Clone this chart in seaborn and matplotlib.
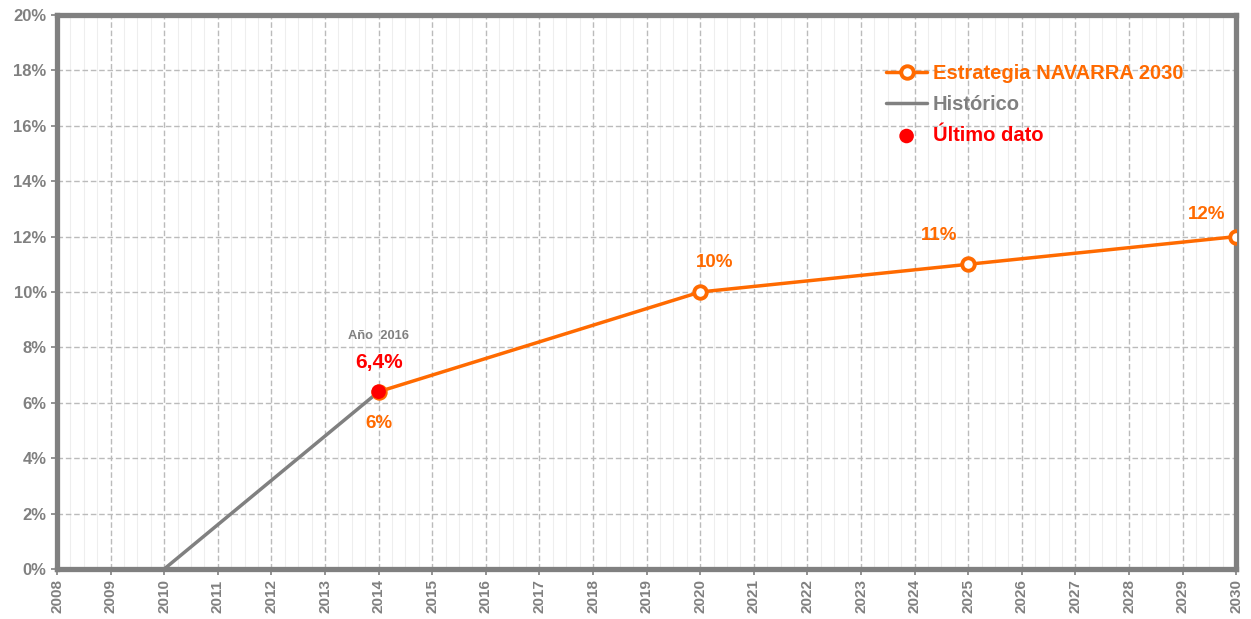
import matplotlib
matplotlib.use("Agg")
import matplotlib.pyplot as plt
import seaborn as sns
import pandas as pd
from matplotlib.ticker import MultipleLocator, FuncFormatter

# Data
years_strategy = [2014, 2020, 2025, 2030]
values_strategy = [6.4, 10.0, 11.0, 12.0]
labels_strategy = ["6%", "10%", "11%", "12%"]
years_hist = [2010, 2014]
values_hist = [0.0, 6.4]
last_year = [2014]
last_value = [6.4]
last_label = "6,4%"
last_note = "Año  2016"
series_names = ["Estrategia NAVARRA 2030", "Histórico", "Último dato"]

ORANGE = "#FF6A00"
GRAY = "#808080"
RED = "#FF0000"

sns.set_style("white")
plt.rcParams["font.family"] = ["Liberation Sans", "DejaVu Sans"]

fig = plt.figure(figsize=(12.51, 6.19), dpi=100)
ax = fig.add_axes([0.0456, 0.0808, 0.9426, 0.8950])

df_s = pd.DataFrame({"year": years_strategy, "value": values_strategy})
df_h = pd.DataFrame({"year": years_hist, "value": values_hist})
df_l = pd.DataFrame({"year": last_year, "value": last_value})

sns.lineplot(data=df_h, x="year", y="value", ax=ax, color=GRAY, lw=2.5,
             label=series_names[1], zorder=3)
sns.lineplot(data=df_s, x="year", y="value", ax=ax, color=ORANGE, lw=2.5,
             marker="o", markersize=9, markerfacecolor="white",
             markeredgecolor=ORANGE, markeredgewidth=2.8,
             label=series_names[0], zorder=4)
sns.scatterplot(data=df_l, x="year", y="value", ax=ax, color=RED, s=110,
                edgecolor="none", label=series_names[2], zorder=5)

ax.set_xlim(2008, 2030)
ax.set_ylim(0, 20)
ax.xaxis.set_major_locator(MultipleLocator(1))
ax.xaxis.set_minor_locator(MultipleLocator(0.25))
ax.yaxis.set_major_locator(MultipleLocator(2))
ax.yaxis.set_major_formatter(FuncFormatter(lambda v, p: f"{v:.0f}%"))
ax.set_xlabel("")
ax.set_ylabel("")

ax.grid(which="minor", axis="x", color="#EEEEEE", lw=0.8, ls="-", zorder=0)
ax.grid(which="major", axis="both", color="#BBBBBB", lw=1.0, ls=(0, (4, 2)), zorder=1)
ax.set_axisbelow(True)

for s in ax.spines.values():
    s.set_visible(True)
    s.set_color(GRAY)
    s.set_linewidth(3.8)

ax.tick_params(axis="both", which="major", colors=GRAY, length=4, width=1.2,
               direction="out", bottom=True, left=True)
ax.tick_params(axis="both", which="minor", length=0)
for t in ax.get_xticklabels():
    t.set_rotation(90)
    t.set_fontweight("bold")
    t.set_fontsize(11)
    t.set_color(GRAY)
for t in ax.get_yticklabels():
    t.set_fontweight("bold")
    t.set_fontsize(12)
    t.set_color(GRAY)

# Data labels
offsets = [(0, -23), (10, 21), (-21, 21), (-21, 16)]
for x, y, lab, off in zip(years_strategy, values_strategy, labels_strategy, offsets):
    ax.annotate(lab, (x, y), xytext=off, textcoords="offset points",
                ha="center", va="center", color=ORANGE, fontsize=13.5,
                fontweight="bold")
ax.annotate(last_label, (last_year[0], last_value[0]), xytext=(0, 21),
            textcoords="offset points", ha="center", va="center", color=RED,
            fontsize=15, fontweight="bold")
ax.annotate(last_note, (last_year[0], last_value[0]), xytext=(0, 40),
            textcoords="offset points", ha="center", va="center", color=GRAY,
            fontsize=9.3, fontweight="bold")

handles, labels = ax.get_legend_handles_labels()
order = [labels.index(n) for n in series_names]
leg = ax.legend([handles[i] for i in order], [labels[i] for i in order],
                loc="upper left", bbox_to_anchor=(0.688, 0.944), frameon=False,
                fontsize=14.5, handlelength=2.0, handletextpad=0.3,
                labelspacing=0.6)
for txt, c in zip(leg.get_texts(), [ORANGE, GRAY, RED]):
    txt.set_color(c)
    txt.set_fontweight("bold")

fig.savefig("out.png", dpi=100)
